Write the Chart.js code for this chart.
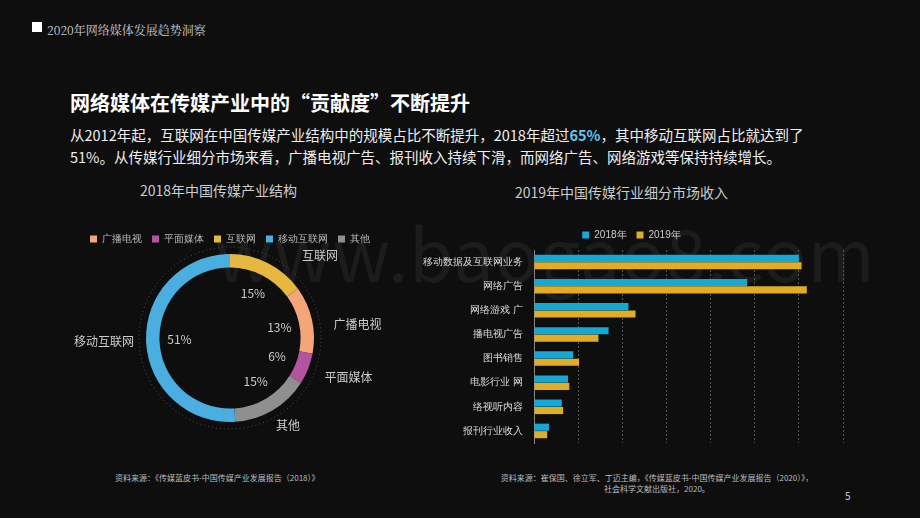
<!DOCTYPE html>
<html><head><meta charset="utf-8">
<script src="https://cdn.jsdelivr.net/npm/chart.js@4"></script>
<style>
body{margin:0;width:920px;height:518px;background:#0e0e0e;font-family:"Noto Sans CJK SC","Noto Sans",sans-serif;color:#ddd;overflow:hidden;position:relative}
.abs{position:absolute}
</style></head><body>
<div class="abs" style="left:32px;top:22px;width:10px;height:10px;background:#fff"></div>
<div class="abs" style="left:47px;top:21px;font-size:12px;color:#ccc;font-family:'Noto Serif CJK SC','Noto Sans CJK SC';">2020年网络媒体发展趋势洞察</div>
<div class="abs" style="left:70px;top:88px;font-size:20px;font-weight:bold;color:#fff">网络媒体在传媒产业中的“贡献度”不断提升</div>
<div class="abs" style="left:70px;top:124px;width:820px;font-size:14.5px;line-height:22px;color:#eee">从2012年起，互联网在中国传媒产业结构中的规模占比不断提升，2018年超过<b style="color:#5ec8f0">65%</b>，其中移动互联网占比就达到了<br>51%。从传媒行业细分市场来看，广播电视广告、报刊收入持续下滑，而网络广告、网络游戏等保持持续增长。</div>
<div class="abs" style="left:140px;top:180px;font-size:14px;color:#ccc">2018年中国传媒产业结构</div>
<div class="abs" style="left:515px;top:182px;font-size:14px;color:#ccc">2019年中国传媒行业细分市场收入</div>
<div class="abs" style="left:215px;top:198px;font-size:72px;color:rgba(255,255,255,0.06);letter-spacing:1px">www.baogao8.com</div>
<div class="abs" style="left:115px;top:472px;font-size:8px;color:#bbb">资料来源：《传媒蓝皮书-中国传媒产业发展报告（2018）》</div>
<div class="abs" style="left:482px;top:472px;font-size:8px;color:#bbb;text-align:center;width:350px;line-height:11px">资料来源：崔保国、徐立军、丁迈主编，《传媒蓝皮书-中国传媒产业发展报告（2020）》，<br>社会科学文献出版社，2020。</div>
<div class="abs" style="left:845px;top:488px;font-size:10px;color:#ccc">5</div>
<div class="abs" style="left:60px;top:196px;width:340px;height:250px"><canvas id="pie"></canvas></div>
<div class="abs" style="left:420px;top:220px;width:440px;height:232px"><canvas id="bar"></canvas></div>
<script>
const pieLabels = ["互联网", "广播电视", "平面媒体", "其他", "移动互联网"];
const pieValues = [15, 13, 6, 15, 51];
const pieColors = ["#e6b840", "#f4a57a", "#b254a0", "#8f8f8f", "#4aaee0"];
const legendOrder = ["广播电视", "平面媒体", "互联网", "移动互联网", "其他"];

const barLabels = ["移动数据及互联网业务", "网络广告", "网络游戏 广", "播电视广告", "图书销售", "电影行业 网", "络视听内容", "报刊行业收入"];
const v2018 = [6000, 4830, 2140, 1690, 890, 770, 630, 340];
const v2019 = [6060, 6180, 2300, 1460, 1020, 800, 660, 300];

// label nudges so the outside names sit where the reference puts them
const labelShift = [[24, 12], [0, 10], [-4, 0], [-8, -4], [10, 0]];

const pieDecor = {
  id: "pieDecor",
  afterDraw(chart) {
    const arc = chart.getDatasetMeta(0).data[0];
    const ctx = chart.ctx;
    const cx = arc.x, cy = arc.y, r = arc.outerRadius, ir = arc.innerRadius;
    ctx.save();
    ctx.setLineDash([1, 3]);
    ctx.strokeStyle = "#555";
    ctx.beginPath();
    ctx.arc(cx, cy, r + 7, 0, Math.PI * 2);
    ctx.stroke();
    ctx.setLineDash([]);
    ctx.font = "12px 'Noto Sans CJK SC'";
    ctx.fillStyle = "#ccc";
    ctx.textBaseline = "middle";
    chart.getDatasetMeta(0).data.forEach((a, i) => {
      const mid = (a.startAngle + a.endAngle) / 2;
      const pr = ir - 20;
      ctx.textAlign = "center";
      ctx.fillText(pieValues[i] + "%", cx + Math.cos(mid) * pr, cy + Math.sin(mid) * pr);
      const lr = r + 22;
      const lx = cx + Math.cos(mid) * lr + labelShift[i][0];
      const ly = cy + Math.sin(mid) * lr + labelShift[i][1];
      ctx.textAlign = Math.cos(mid) < -0.3 ? "right" : (Math.cos(mid) > 0.3 ? "left" : "center");
      ctx.fillText(pieLabels[i], lx, ly);
    });
    ctx.restore();
  }
};

new Chart(document.getElementById("pie"), {
  type: "doughnut",
  data: {
    labels: pieLabels,
    datasets: [{ data: pieValues, backgroundColor: pieColors, borderWidth: 0 }]
  },
  options: {
    responsive: true, maintainAspectRatio: false, animation: false,
    cutout: "84%",
    layout: { padding: { top: 28, bottom: 24 } },
    plugins: {
      tooltip: { enabled: false },
      legend: {
        labels: {
          color: "#bbb", boxWidth: 7, boxHeight: 7, font: { size: 10 },
          generateLabels: () => legendOrder.map(n => {
            const i = pieLabels.indexOf(n);
            return { text: n, fillStyle: pieColors[i], strokeStyle: pieColors[i], lineWidth: 0, fontColor: "#bbb" };
          })
        }
      }
    }
  },
  plugins: [pieDecor]
});

new Chart(document.getElementById("bar"), {
  type: "bar",
  data: {
    labels: barLabels,
    datasets: [
      { label: "2018年", data: v2018, backgroundColor: "#14a8d6", borderWidth: 0 },
      { label: "2019年", data: v2019, backgroundColor: "#e0ad25", borderWidth: 0 }
    ]
  },
  options: {
    indexAxis: "y",
    responsive: true, maintainAspectRatio: false, animation: false,
    layout: { padding: { right: 17, left: 0, bottom: 6 } },
    datasets: { bar: { categoryPercentage: 0.62, barPercentage: 0.95 } },
    scales: {
      x: {
        min: 0, max: 7000,
        ticks: { display: false, stepSize: 1000 },
        grid: { color: "#555", drawTicks: false },
        border: { display: false, dash: [2, 2] }
      },
      y: {
        ticks: { color: "#ddd", font: { size: 10 } },
        grid: { display: false },
        border: { color: "#888" }
      }
    },
    plugins: {
      tooltip: { enabled: false },
      legend: { labels: { color: "#ccc", boxWidth: 7, boxHeight: 7, font: { size: 10 } } }
    }
  }
});
</script>
</body></html>
